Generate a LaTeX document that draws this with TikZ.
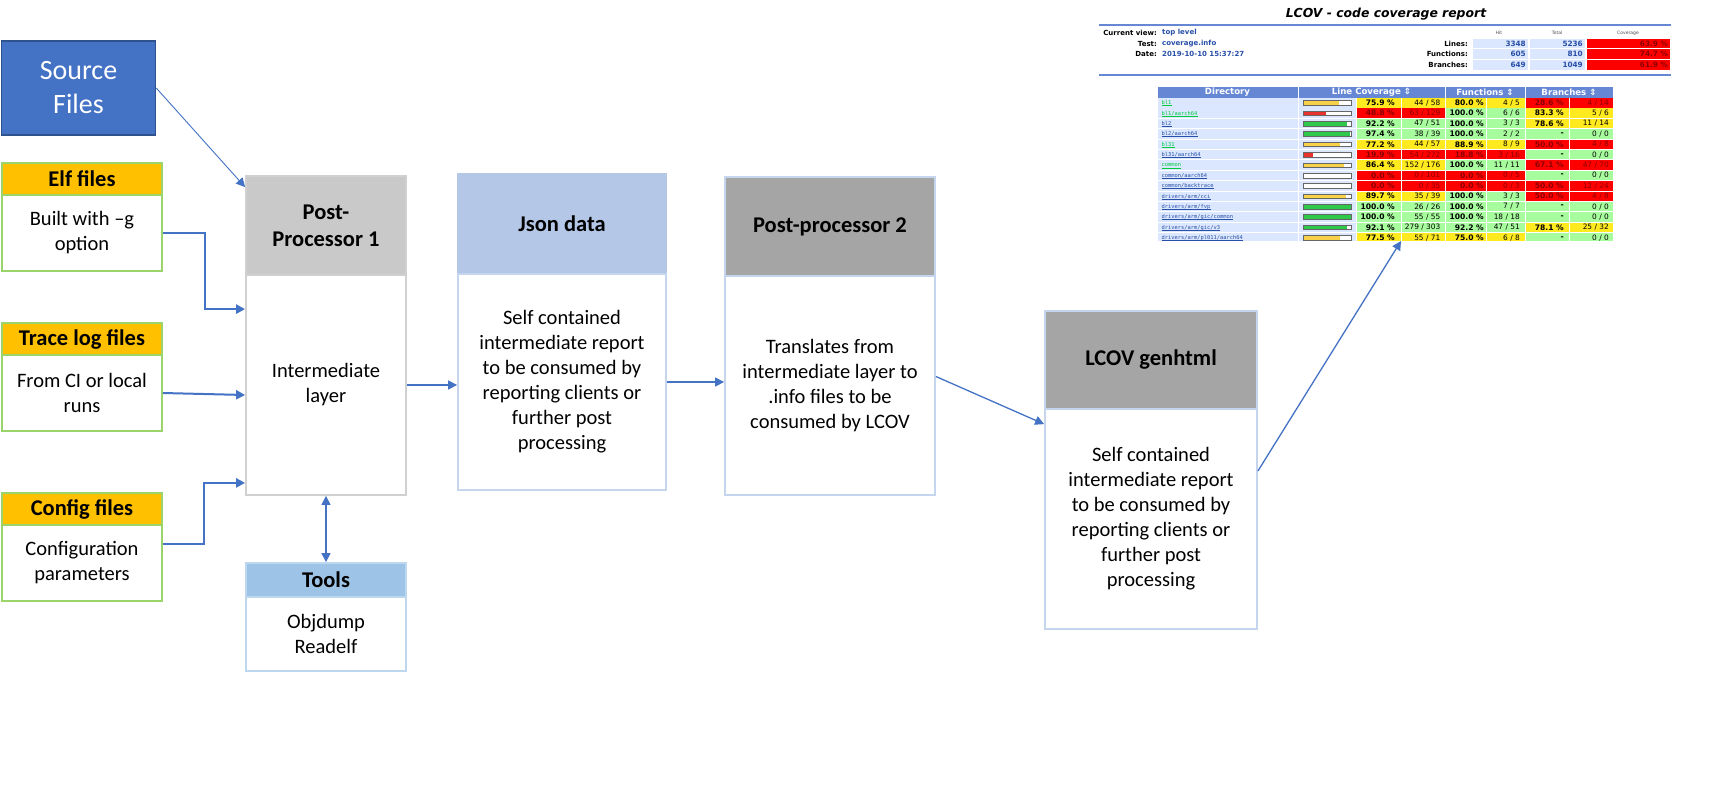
\documentclass[tikz,border=0pt]{standalone}
\usepackage{fontspec}
\setmainfont{Carlito}
\newfontfamily\lcovsans{DejaVu Sans}
\newfontfamily\lcovmono{DejaVu Sans Mono}
\usetikzlibrary{arrows.meta}

\definecolor{srcblue}{HTML}{4472C4}
\definecolor{srcedge}{HTML}{2F528F}
\definecolor{inputhead}{HTML}{FFC000}
\definecolor{inputedge}{HTML}{9BD46A}
\definecolor{pphead}{HTML}{C9C9C9}
\definecolor{ppedge}{HTML}{D0D0D0}
\definecolor{jsonhead}{HTML}{B4C7E7}
\definecolor{boxedge}{HTML}{C5D5EE}
\definecolor{darkhead}{HTML}{A5A5A5}
\definecolor{toolhead}{HTML}{9DC3E6}
\definecolor{tooledge}{HTML}{BDD7EE}
\definecolor{arrowblue}{HTML}{4472C4}
\definecolor{lcovrule}{HTML}{6688D4}
\definecolor{lcovcell}{HTML}{DAE7FE}
\definecolor{lcovtext}{HTML}{284FA8}
\definecolor{lnkU}{HTML}{284FA8}
\definecolor{lnkV}{HTML}{00CB40}
\definecolor{covH}{HTML}{A7FC9D}
\definecolor{covM}{HTML}{FFEA20}
\definecolor{covL}{HTML}{FF0000}
\definecolor{barH}{HTML}{2EC84A}
\definecolor{barM}{HTML}{F7D14A}
\definecolor{barL}{HTML}{E8322E}
\colorlet{txtH}{black}
\colorlet{txtM}{black}
\definecolor{txtL}{HTML}{8A0000}

\newcommand{\bodyfont}{\fontsize{20.5}{25}\selectfont}
\newcommand{\headfont}{\bfseries\fontsize{22.5}{27}\selectfont}
\newcommand{\lcovsize}[1]{\fontsize{#1}{#1}\selectfont}

\begin{document}
\begin{tikzpicture}[x=1pt,y=1pt]
\tikzstyle{every node}+=[inner sep=0pt]
\tikzstyle{srcbox}=[draw=srcedge,fill=srcblue,line width=1.5pt,text=white,align=center,font=\fontsize{28}{34}\selectfont,minimum width=154pt,minimum height=94pt]
\tikzstyle{inhead}=[draw=inputedge,fill=inputhead,line width=1.8pt,font=\headfont,minimum width=160pt,minimum height=32pt]
\tikzstyle{inbody}=[draw=inputedge,fill=white,line width=1.8pt,font=\bodyfont,align=center,minimum width=160pt,minimum height=76pt]
\tikzstyle{stephead}=[line width=1.8pt,font=\headfont,align=center]
\tikzstyle{stepbody}=[draw=boxedge,fill=white,line width=1.8pt,font=\bodyfont,align=center]
\tikzstyle{conn}=[draw=arrowblue,line width=1.3pt,-{Triangle[length=9pt,width=9pt]}]
\tikzstyle{thickconn}=[conn,line width=2.3pt]
\path[use as bounding box,fill=white] (0,0) rectangle (1718,-790);

\node[srcbox] (src) at (78.5,-88) {Source\\Files};
\node[inhead] (elfh) at (82,-179) {Elf files};
\node[inbody] (elfb) at (82,-233) {Built with –g\\option};
\node[inhead] (traceh) at (82,-339) {Trace log files};
\node[inbody] (traceb) at (82,-393) {From CI or local\\runs};
\node[inhead] (configh) at (82,-509) {Config files};
\node[inbody] (configb) at (82,-563) {Configuration\\parameters};

\node[stephead,draw=ppedge,fill=pphead,minimum width=160pt,minimum height=99pt] (pp1h) at (326,-225.5) {Post-\\Processor 1};
\node[stepbody,draw=ppedge,minimum width=160pt,minimum height=220pt] (pp1b) at (326,-385) {Intermediate\\layer};
\node[stephead,draw=jsonhead,fill=jsonhead,minimum width=208pt,minimum height=100pt] (jsonh) at (562,-224) {Json data};
\node[stepbody,minimum width=208pt,minimum height=216pt] (jsonb) at (562,-382) {Self contained\\intermediate report\\to be consumed by\\reporting clients or\\further post\\processing};
\node[stephead,draw=boxedge,fill=darkhead,minimum width=210pt,minimum height=99pt] (pp2h) at (830,-226.5) {Post-processor 2};
\node[stepbody,minimum width=210pt,minimum height=219pt] (pp2b) at (830,-385.5) {Translates from\\intermediate layer to\\.info files to be\\consumed by LCOV};
\node[stephead,draw=boxedge,fill=darkhead,minimum width=212pt,minimum height=98pt] (lcovh) at (1151,-360) {LCOV genhtml};
\node[stepbody,minimum width=212pt,minimum height=220pt] (lcovb) at (1151,-519) {Self contained\\intermediate report\\to be consumed by\\reporting clients or\\further post\\processing};
\node[stephead,draw=tooledge,fill=toolhead,minimum width=160pt,minimum height=34pt] (toolsh) at (326,-580) {Tools};
\node[stepbody,draw=tooledge,minimum width=160pt,minimum height=74pt] (toolsb) at (326,-634) {Objdump\\Readelf};

\coordinate (reptip) at (1401,-241);
\draw[conn,line width=0.9pt] (src.east) -- ([yshift=-12pt]pp1h.north west);
\draw[thickconn] (elfb.east) -- ++(42,0) |- ([yshift=-35pt]pp1b.north west);
\draw[thickconn,line width=2pt] (traceb.east) -- ([yshift=-10pt]pp1b.west);
\draw[thickconn] ([yshift=19pt]configb.east) -- ++(41,0) |- ([yshift=13pt]pp1b.south west);
\draw[conn,{Triangle[length=9pt,width=9pt]}-{Triangle[length=9pt,width=9pt]}] (pp1b.south) -- (toolsh.north);
\draw[conn] (pp1b.east) -- (pp1b.east -| jsonb.west);
\draw[conn] (jsonb.east) -- (jsonb.east -| pp2b.west);
\draw[conn] ([yshift=9pt]pp2b.east) -- ([yshift=-16pt]lcovb.north west);
\draw[conn] ([yshift=48pt]lcovb.east) -- (reptip);

\node[font=\lcovsans\bfseries\itshape\lcovsize{12.4}] (title) at (1386,-14) {LCOV - code coverage report};
\draw[lcovrule,line width=1.5pt] (1099,-25) -- (1671,-25);
\draw[lcovrule,line width=1.5pt] (1099,-75) -- (1671,-75);
\foreach \n/\lab/\val in {0/Current view:/top level, 1/Test:/coverage.info, 2/Date:/2019-10-10 15:37:27} {
  \node[anchor=east,font=\lcovsans\bfseries\lcovsize{7}] (hl\n) at (1157,-33-\n*10.5) {\lab};
  \node[anchor=west,font=\lcovsans\bfseries\lcovsize{7},text=lcovtext] (hv\n) at (1162,-33-\n*10.5) {\val};
}
\foreach \x/\t in {1499/Hit, 1557/Total, 1628/Coverage}
  \node[font=\lcovsans\lcovsize{4.5},text=black!70] (sh\t) at (\x,-33) {\t};
\foreach \n/\lab/\hit/\tot/\cov in {0/Lines:/3348/5236/63.9, 1/Functions:/605/810/74.7, 2/Branches:/649/1049/61.9} {
  \pgfmathsetmacro{\yy}{-43.5-\n*10.75}
  \fill[lcovcell] (1473,\yy+4.8) rectangle (1528,\yy-4.8);
  \fill[lcovcell] (1530,\yy+4.8) rectangle (1585,\yy-4.8);
  \fill[covL] (1587,\yy+4.8) rectangle (1670,\yy-4.8);
  \node[anchor=east,font=\lcovsans\bfseries\lcovsize{7}] (sl\n) at (1468,\yy) {\lab};
  \node[anchor=east,font=\lcovsans\bfseries\lcovsize{7.3},text=lcovtext] (shit\n) at (1526,\yy) {\hit};
  \node[anchor=east,font=\lcovsans\bfseries\lcovsize{7.3},text=lcovtext] (stot\n) at (1583,\yy) {\tot};
  \node[anchor=east,font=\lcovsans\bfseries\lcovsize{7.3},text=txtL] (scov\n) at (1668,\yy) {\cov{} \%};
}

\begin{scope}
\clip (1150,-80) rectangle (1620,-240.5);
\foreach \x/\w/\t in {1157/141/Directory, 1298/147/Line Coverage ⇕, 1445/80/Functions ⇕, 1525/88/Branches ⇕} {
  \fill[lcovrule] (\x+0.5,-87) rectangle (\x+\w-0.5,-97.5);
  \node[font=\lcovsans\bfseries\lcovsize{8.6},text=white] (th\x) at (\x+\w/2,-92.3) {\t};
}
\foreach \r/\dir/\lnk/\pct/\lc/\lh/\lt/\fp/\fc/\fh/\ft/\bp/\bc/\bh/\bt in {
  1/bl1/V/75.9/M/44/58/{80.0 \%}/M/4/5/{28.6 \%}/L/4/14,
  2/{bl1/aarch64}/V/48.8/L/63/129/{100.0 \%}/H/6/6/{83.3 \%}/M/5/6,
  3/bl2/U/92.2/H/47/51/{100.0 \%}/H/3/3/{78.6 \%}/M/11/14,
  4/{bl2/aarch64}/U/97.4/H/38/39/{100.0 \%}/H/2/2/-/H/0/0,
  5/bl31/V/77.2/M/44/57/{88.9 \%}/M/8/9/{50.0 \%}/L/4/8,
  6/{bl31/aarch64}/U/19.9/L/54/272/{18.8 \%}/L/3/16/-/H/0/0,
  7/common/V/86.4/M/152/176/{100.0 \%}/H/11/11/{67.1 \%}/L/47/70,
  8/{common/aarch64}/U/0.0/L/0/101/{0.0 \%}/L/0/5/-/H/0/0,
  9/{common/backtrace}/U/0.0/L/0/35/{0.0 \%}/L/0/3/{50.0 \%}/L/12/24,
  10/{drivers/arm/cci}/U/89.7/M/35/39/{100.0 \%}/H/3/3/{50.0 \%}/L/4/8,
  11/{drivers/arm/fvp}/U/100.0/H/26/26/{100.0 \%}/H/7/7/-/H/0/0,
  12/{drivers/arm/gic/common}/U/100.0/H/55/55/{100.0 \%}/H/18/18/-/H/0/0,
  13/{drivers/arm/gic/v3}/U/92.1/H/279/303/{92.2 \%}/H/47/51/{78.1 \%}/M/25/32,
  14/{drivers/arm/pl011/aarch64}/U/77.5/M/55/71/{75.0 \%}/M/6/8/-/H/0/0} {
  \pgfmathsetmacro{\yc}{-102.8-(\r-1)*10.38}
  \fill[lcovcell] (1157.5,\yc+4.7) rectangle (1297.5,\yc-4.7);
  \fill[lcovcell] (1298.5,\yc+4.7) rectangle (1355.5,\yc-4.7);
  \fill[cov\lc] (1356.5,\yc+4.7) rectangle (1400.5,\yc-4.7);
  \fill[cov\lc] (1401.5,\yc+4.7) rectangle (1444.5,\yc-4.7);
  \fill[cov\fc] (1445.5,\yc+4.7) rectangle (1485.5,\yc-4.7);
  \fill[cov\fc] (1486.5,\yc+4.7) rectangle (1524.5,\yc-4.7);
  \fill[cov\bc] (1525.5,\yc+4.7) rectangle (1568.5,\yc-4.7);
  \fill[cov\bc] (1569.5,\yc+4.7) rectangle (1612.5,\yc-4.7);
  \fill[white] (1303,\yc+2.3) rectangle (1351,\yc-2.3);
  \fill[bar\lc] (1303,\yc+2.3) rectangle ({1303+0.48*\pct},\yc-2.3);
  \draw[black!60,line width=0.4pt] (1303,\yc+2.3) rectangle (1351,\yc-2.3);
  \node[anchor=base west,font=\lcovmono\lcovsize{5.4},text=lnk\lnk] (d\r) at (1161.5,\yc-1.9) {\dir};
  \draw[lnk\lnk,line width=0.35pt] ([yshift=-0.7pt]d\r.base west) -- ([yshift=-0.7pt]d\r.base east);
  \node[anchor=east,font=\lcovsans\bfseries\lcovsize{7.6},text=txt\lc] (lp\r) at (1395,\yc) {\pct{} \%};
  \node[anchor=east,font=\lcovsans\lcovsize{7.4},text=txt\lc] (lc\r) at (1440.5,\yc) {\lh{} / \lt};
  \node[anchor=east,font=\lcovsans\bfseries\lcovsize{7.6},text=txt\fc] (fp\r) at (1484,\yc) {\fp};
  \node[anchor=east,font=\lcovsans\lcovsize{7.4},text=txt\fc] (fc\r) at (1520,\yc) {\fh{} / \ft};
  \node[anchor=east,font=\lcovsans\bfseries\lcovsize{7.6},text=txt\bc] (bp\r) at (1564,\yc) {\bp};
  \node[anchor=east,font=\lcovsans\lcovsize{7.4},text=txt\bc] (bc\r) at (1609,\yc) {\bh{} / \bt};
}
\end{scope}
\end{tikzpicture}
\end{document}
